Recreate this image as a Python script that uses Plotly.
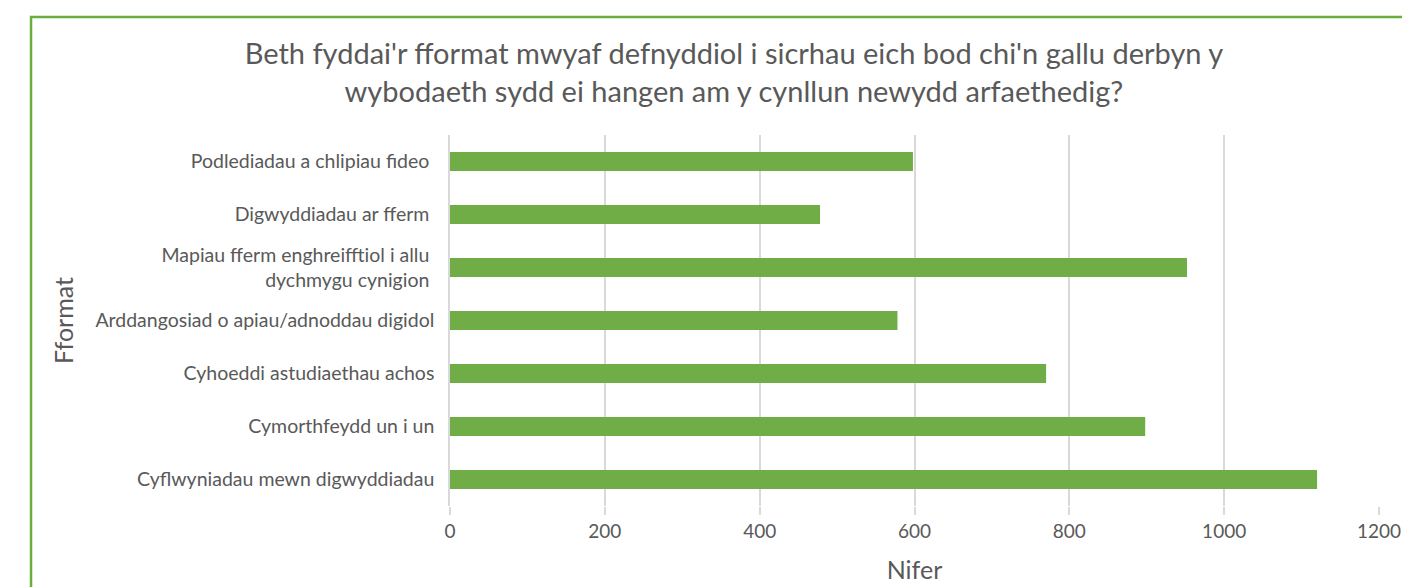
import plotly.graph_objects as go

# Categorïau (o'r brig i'r gwaelod) a'u gwerthoedd
fformat = [
    "Podlediadau a chlipiau fideo\u00a0",
    "Digwyddiadau ar fferm\u00a0",
    "Mapiau fferm enghreifftiol i allu\u00a0<br>dychmygu cynigion\u00a0",
    "Arddangosiad o apiau/adnoddau digidol",
    "Cyhoeddi astudiaethau achos",
    "Cymorthfeydd un i un",
    "Cyflwyniadau mewn digwyddiadau",
]
nifer = [598, 478, 952, 578, 770, 898, 1120]
x_ticks = [0, 200, 400, 600, 800, 1000, 1200]

teitl = ("Beth fyddai'r fformat mwyaf defnyddiol i sicrhau eich bod chi'n gallu derbyn y<br>"
         "wybodaeth sydd ei hangen am y cynllun newydd arfaethedig?")

grey = "#595959"
grid = "#D9D9D9"
ffont = "Lato"

fig = go.Figure(go.Bar(
    x=nifer,
    y=fformat,
    orientation="h",
    marker=dict(color="#70AD47", line=dict(width=0)),
))

fig.update_layout(
    width=1402,
    height=587,
    paper_bgcolor="white",
    plot_bgcolor="white",
    margin=dict(l=450, r=23, t=135, b=81, autoexpand=False),
    bargap=0.64,
    showlegend=False,
    font=dict(family=ffont, color=grey),
    title=dict(text=teitl, x=0.5235, xanchor="center", y=0.891, yanchor="middle",
               font=dict(size=29, color=grey, family=ffont)),
)

fig.update_xaxes(
    range=[0, 1200],
    tickvals=x_ticks,
    automargin=False,
    showgrid=True, gridcolor=grid, gridwidth=1.5,
    zeroline=False,
    ticks="outside", ticklen=8, tickcolor=grid, tickwidth=1.5,
    tickfont=dict(size=19, color=grey),
    title=dict(text="Nifer", font=dict(size=25, color=grey), standoff=20),
)

fig.update_yaxes(
    autorange="reversed",
    automargin=False,
    showline=True, linecolor=grid, linewidth=1.5,
    ticks="", ticklabelstandoff=10,
    tickfont=dict(size=19.5, color=grey),
    title=dict(text="Fformat", font=dict(size=25, color=grey), standoff=15),
)

# ffrâm werdd o amgylch y siart
fig.add_shape(type="rect", xref="paper", yref="paper",
              x0=-0.451, x1=2.0, y0=-1.0, y1=1.318,
              line=dict(color="#6AAF3D", width=2.5), layer="below")

# dim ymyl ar y dudalen, fel bod y ffigur yn llenwi'r ffenestr
fig.write_html("out.html", config={"displayModeBar": False},
               post_script="document.body.style.margin='0';document.body.style.overflow='hidden';")
